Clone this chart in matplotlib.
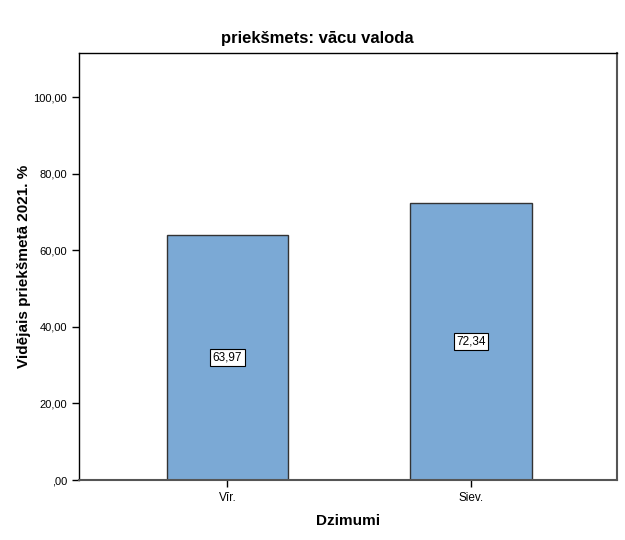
import matplotlib
matplotlib.use("Agg")
import matplotlib.pyplot as plt
from matplotlib.ticker import FuncFormatter

categories = ["Vīr.", "Siev."]
values = [63.97, 72.34]
title = "priekšmets: vācu valoda"
ylabel = "Vidējais priekšmetā 2021. %"
xlabel = "Dzimumi"
yticks = [0, 20, 40, 60, 80, 100]

plt.rcParams['font.family'] = ['Liberation Sans', 'DejaVu Sans']

fig = plt.figure(figsize=(6.25, 5.4), dpi=100)
ax = fig.add_axes([79/625, 1-480/540, (617-79)/625, (480-53)/540])

x = list(range(len(categories)))
bars = ax.bar(x, values, width=0.5, color='#7ba9d5', edgecolor='#333333', linewidth=1.0, zorder=2)

for xi, v in zip(x, values):
    ax.text(xi, v/2, f"{v:.2f}".replace('.', ','), ha='center', va='center', fontsize=8.5,
            bbox=dict(boxstyle='square,pad=0.2', facecolor='white', edgecolor='black', linewidth=0.8), zorder=3)

ax.set_xlim(-0.61, 1.60)
ax.set_ylim(0, 111.5)
ax.set_xticks(x)
ax.set_xticklabels(categories)
ax.set_yticks(yticks)

def fmt(v, pos):
    s = f"{v:.2f}".replace('.', ',')
    if s.startswith('0,'):
        s = s[1:]
    return s

ax.yaxis.set_major_formatter(FuncFormatter(fmt))
ax.tick_params(axis='y', labelsize=8, length=5, width=1, direction='out', color='black')
ax.tick_params(axis='x', labelsize=8.5, length=5, width=1, direction='out', color='black')

ax.spines['left'].set_color('black')
ax.spines['left'].set_linewidth(1.0)
ax.spines['top'].set_color('black')
ax.spines['top'].set_linewidth(1.0)
ax.spines['right'].set_color('#555555')
ax.spines['right'].set_linewidth(1.5)
ax.spines['bottom'].set_color('#555555')
ax.spines['bottom'].set_linewidth(1.5)

ax.set_title(title, fontsize=12, fontweight='bold', pad=7, x=(317-79)/538)
ax.set_ylabel(ylabel, fontsize=11, fontweight='bold', labelpad=2)
ax.set_xlabel(xlabel, fontsize=11, fontweight='bold', labelpad=7)

fig.savefig("out.png", dpi=100, facecolor='white')
